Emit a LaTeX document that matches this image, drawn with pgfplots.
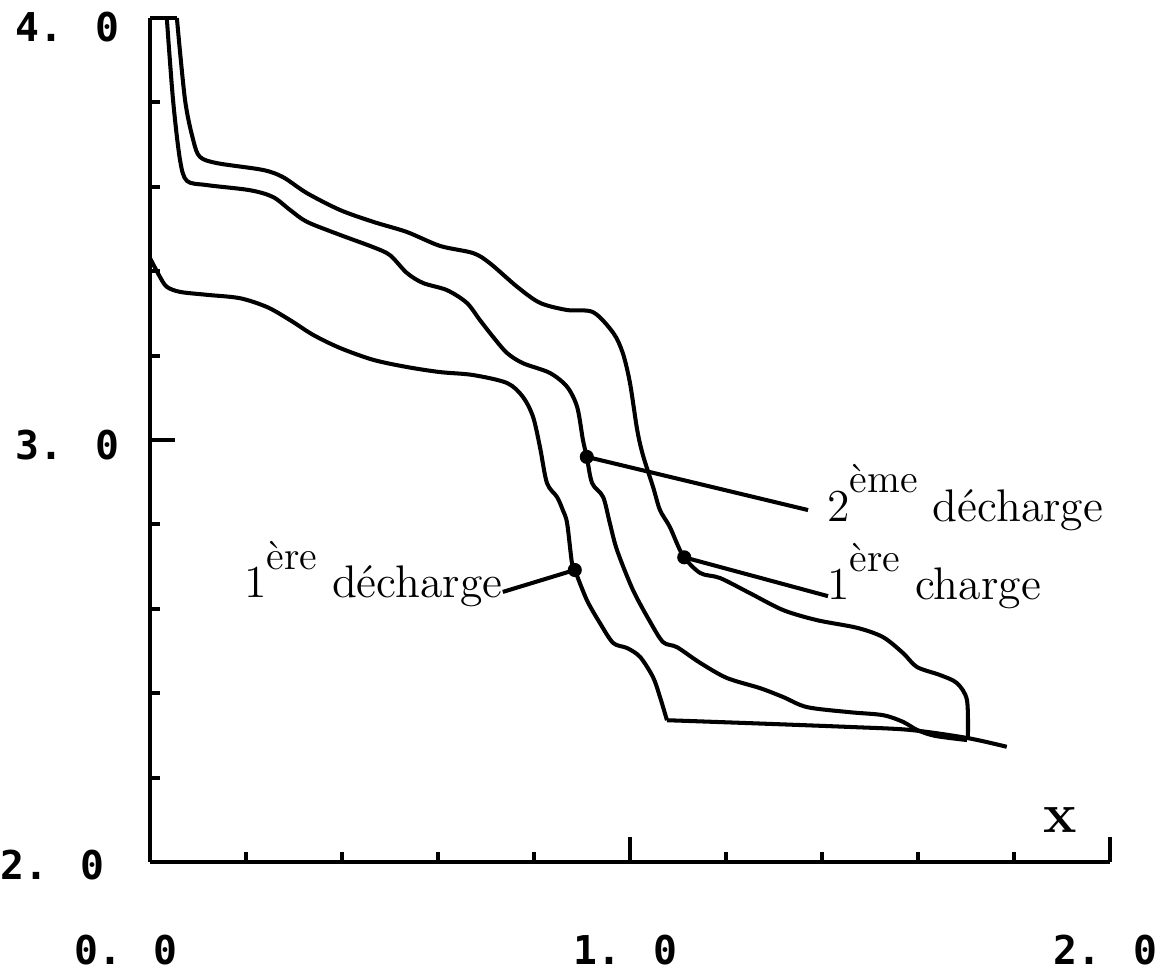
\documentclass[border=0pt]{standalone}
\usepackage{fontspec}
\usepackage{pgfplots}
\pgfplotsset{compat=1.18}
\newfontfamily\plotfont{DejaVu Sans Mono}
\newcommand\tlab{\plotfont\bfseries\fontsize{11.3}{13}\selectfont}
\newcommand\expo[1]{\raisebox{8pt}{\fontsize{11.5}{13}\selectfont #1}}

\begin{document}
\begin{tikzpicture}
\begin{axis}[
    width=9.6cm, height=8.44cm, scale only axis,
    xmin=0, xmax=2, ymin=2, ymax=4,
    axis x line=bottom, axis y line=left,
    axis line style={-, line width=1.3pt},
    xtick={0,1,2}, minor xtick={0.2,0.4,0.6,0.8,1.2,1.4,1.6,1.8},
    ytick={2,3,4}, minor ytick={2.2,2.4,2.6,2.8,3.2,3.4,3.6,3.8},
    xticklabels={,,}, yticklabels={,,},
    tick align=inside,
    major tick length=0.25cm, minor tick length=0.1cm,
    tick style={line width=1.1pt, black},
    clip=false,
    curve/.style={line width=1.15pt, black, no marks, smooth, tension=0.5},
    leader/.style={line width=1.15pt, black, no marks, sharp plot},
]

% 1ere decharge
\addplot[curve] coordinates {
    (0,3.431) (0.021,3.386) (0.035,3.363) (0.0625,3.351) (0.119,3.344)
    (0.1875,3.336) (0.244,3.315) (0.292,3.284) (0.340,3.249) (0.396,3.218)
    (0.465,3.190) (0.535,3.173) (0.604,3.161) (0.673,3.154) (0.744,3.135)
    (0.777,3.102) (0.798,3.055) (0.8125,2.983) (0.827,2.898) (0.848,2.865)
    (0.860,2.834) (0.869,2.803) (0.879,2.709) (0.885,2.692) (0.910,2.621)
    (0.9375,2.566) (0.965,2.519) (0.994,2.507) (1.021,2.486) (1.048,2.438)
    (1.0625,2.391) (1.077,2.336)
};
\addplot[curve] coordinates {
    (1.077,2.336) (1.25,2.329) (1.458,2.320) (1.583,2.313) (1.702,2.294) (1.785,2.273)
};

% 2eme decharge
\addplot[curve] coordinates {
    (0.035,4.0) (0.048,3.806) (0.0625,3.664) (0.077,3.614) (0.119,3.604)
    (0.208,3.592) (0.256,3.576) (0.292,3.545) (0.327,3.517) (0.396,3.486)
    (0.465,3.457) (0.5,3.438) (0.535,3.396) (0.569,3.372) (0.619,3.355)
    (0.660,3.325) (0.6875,3.284) (0.715,3.244) (0.744,3.206) (0.777,3.182)
    (0.833,3.159) (0.869,3.126) (0.890,3.078) (0.902,3.0) (0.910,2.960)
    (0.921,2.898) (0.944,2.865) (0.958,2.803) (0.973,2.739) (1.006,2.645)
    (1.042,2.569) (1.069,2.521) (1.098,2.509) (1.146,2.472) (1.202,2.436)
    (1.271,2.412) (1.319,2.391) (1.369,2.367) (1.458,2.355) (1.527,2.348)
    (1.569,2.332) (1.598,2.313) (1.635,2.299) (1.702,2.289)
};

% 1ere charge
\addplot[curve] coordinates {
    (0.056,4.0) (0.073,3.806) (0.090,3.711) (0.104,3.671) (0.140,3.656)
    (0.235,3.640) (0.277,3.623) (0.327,3.585) (0.396,3.545) (0.465,3.517)
    (0.535,3.493) (0.604,3.460) (0.673,3.443) (0.708,3.419) (0.765,3.363)
    (0.8125,3.325) (0.869,3.308) (0.923,3.303) (0.965,3.254) (0.985,3.206)
    (1.0,3.135) (1.015,3.024) (1.027,2.964) (1.048,2.889) (1.0625,2.834)
    (1.083,2.794) (1.110,2.727) (1.146,2.685) (1.1875,2.673) (1.25,2.637)
    (1.319,2.597) (1.390,2.573) (1.473,2.555) (1.527,2.533) (1.569,2.495)
    (1.598,2.462) (1.646,2.443) (1.681,2.424) (1.702,2.384) (1.704,2.296)
};
\addplot[leader] coordinates {(0.035,4.0) (0.056,4.0)};

% leaders and points
\addplot[leader] coordinates {(0.910,2.960) (1.371,2.834)};
\addplot[leader] coordinates {(1.113,2.722) (1.4125,2.630)};
\addplot[leader] coordinates {(0.735,2.640) (0.885,2.692)};
\addplot[only marks, mark=*, mark size=1.8pt, black] coordinates {
    (0.910,2.960) (1.113,2.722) (0.885,2.692)
};

\node[anchor=base west, font=\fontsize{13}{15}\selectfont, inner sep=0pt]
    at (axis cs:1.41,2.808) {2\expo{ème} décharge};
\node[anchor=base west, font=\fontsize{13}{15}\selectfont, inner sep=0pt]
    at (axis cs:1.41,2.621) {1\expo{ère} charge};
\node[anchor=base west, font=\fontsize{13}{15}\selectfont, inner sep=0pt]
    at (axis cs:0.195,2.626) {1\expo{ère} décharge};
\node[font=\bfseries\fontsize{16}{18}\selectfont] at (axis cs:1.896,2.10) {x};

% tick labels
\node[anchor=east, font=\tlab, inner sep=0pt] at (axis cs:-0.0625,3.979) {4. 0};
\node[anchor=east, font=\tlab, inner sep=0pt] at (axis cs:-0.0625,2.988) {3. 0};
\node[anchor=east, font=\tlab, inner sep=0pt] at (axis cs:-0.094,1.993) {2. 0};
\node[font=\tlab, inner sep=0pt] at (axis cs:-0.05,1.7915) {0. 0};
\node[font=\tlab, inner sep=0pt] at (axis cs:0.99,1.7915) {1. 0};
\node[font=\tlab, inner sep=0pt] at (axis cs:1.99,1.7915) {2. 0};

\coordinate (bl) at (axis cs:-0.3125,1.7299);
\coordinate (tr) at (axis cs:2.1146,4.0427);
\end{axis}
\pgfresetboundingbox
\path (bl) rectangle (tr);
\end{tikzpicture}
\end{document}
